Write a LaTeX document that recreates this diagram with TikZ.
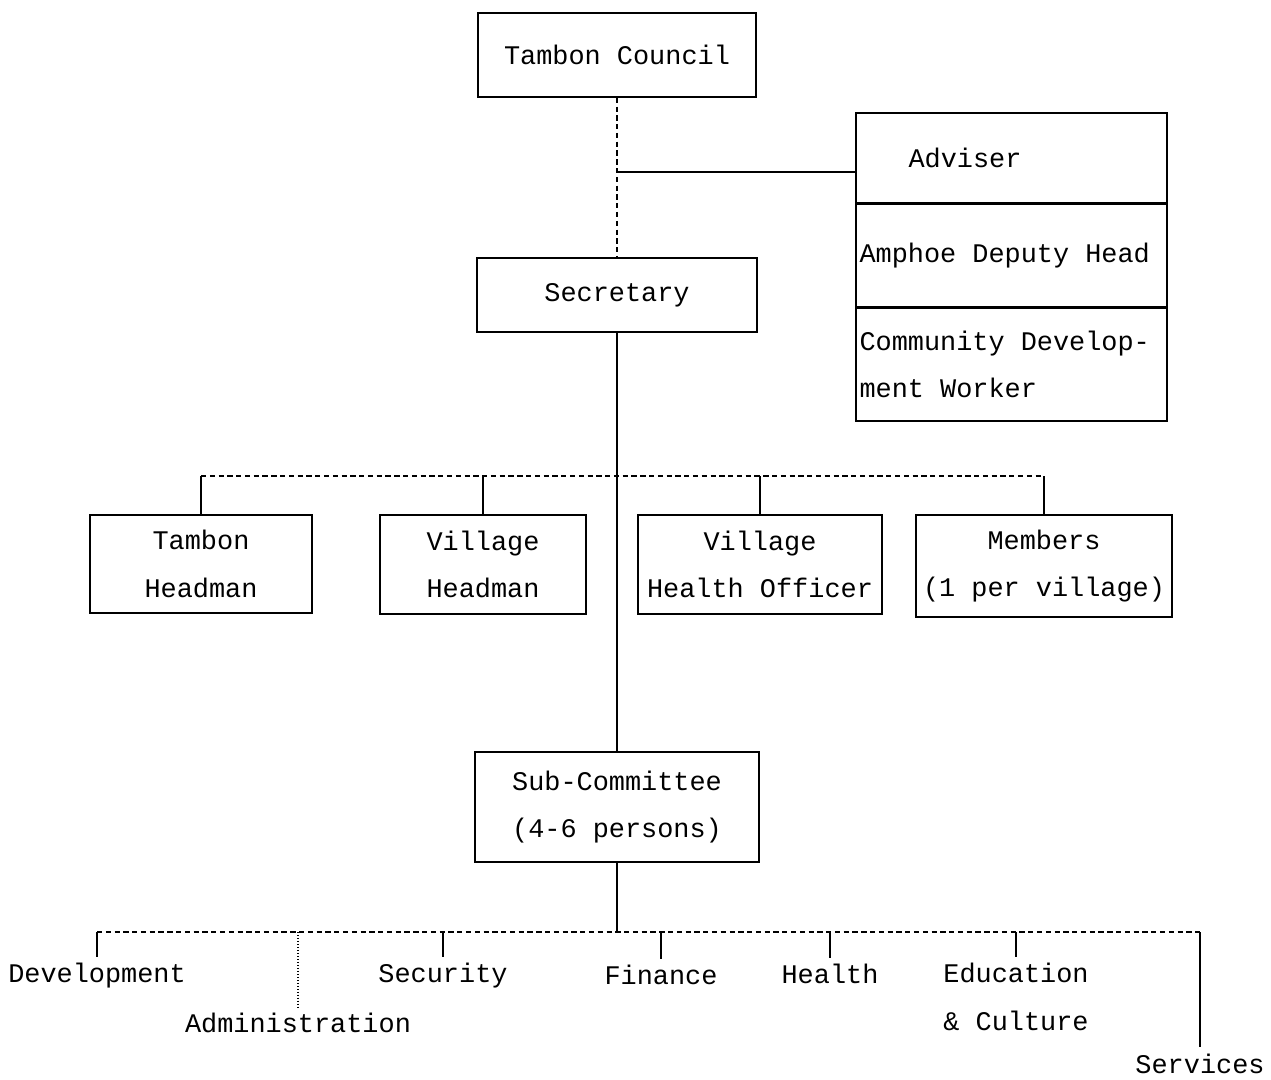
\documentclass[tikz,border=0pt]{standalone}
\usepackage{fontspec}
\setmonofont{Liberation Mono}
\usepackage{tikz}
\usetikzlibrary{positioning}
\usetikzlibrary{calc}
\newcommand{\orgfont}{\ttfamily\fontsize{15.3}{27}\selectfont\setlength{\spaceskip}{9.18pt}}
\pgfkeys{tikz/orgtext/.style={font=\orgfont,align=center}}
\pgfkeys{tikz/orgbox/.style={orgtext,draw,line width=0.9pt,inner sep=0pt,anchor=center}}
\pgfkeys{tikz/advbox/.style={orgtext,draw,line width=0.9pt,minimum width=6.22cm,text width=6.08cm,align=flush left,inner sep=0.07cm}}
\pgfkeys{tikz/branch/.style={line width=0.7pt,densely dashed}}

\begin{document}
\begin{tikzpicture}[x=0.02cm,y=-0.02cm]
    \useasboundingbox (0,0) rectangle (1271,1079);

	\node [orgbox,minimum width=5.56cm,minimum height=1.68cm] (council) at (617,55) {Tambon Council};
	\node [orgbox,minimum width=5.6cm,minimum height=1.48cm] (secr) at (617,295) {Secretary};

	% adviser column
	\node [advbox,minimum height=1.8cm] (adviser) at (1011.5,158) {\hspace*{0.98cm}Adviser\\[-0.2cm]};
	\node [advbox,minimum height=2.04cm,below=0pt of adviser] (deputy) {Amphoe Deputy Head\\[-0.2cm]};
	\node [advbox,minimum height=2.26cm,below=0pt of deputy] (cdworker) {Community Develop-\\ment Worker\\[-0.3cm]};

	% council members
	\node [orgbox,minimum width=4.44cm,minimum height=1.96cm] (tamhead) at (201,564) {Tambon\\Headman};
	\node [orgbox,minimum width=4.12cm,minimum height=1.98cm] (vilhead) at (483,564.5) {Village\\Headman};
	\node [orgbox,minimum width=4.88cm,minimum height=1.98cm] (vho) at (760,564.5) {Village\\Health Officer};
	\node [orgbox,minimum width=5.12cm,minimum height=2.04cm] (members) at (1044,566) {Members\\(1 per village)};

	\node [orgbox,minimum width=5.68cm,minimum height=2.2cm] (subcom) at (617,807) {Sub-Committee\\(4-6 persons)};

	% sub-committee fields
	\node [orgtext] (dev) at (97,976) {Development};
	\node [orgtext] (admin) at (298,1023) {Administration};
	\node [orgtext] (secu) at (443,976) {Security};
	\node [orgtext] (fin) at (661,975) {Finance};
	\node [orgtext] (hlth) at (830,974) {Health};
	\node [orgtext] (educ) at (1016,997) {Education\\\& Culture};
	\node [orgtext,inner sep=1pt] (serv) at (1200,1064) {Services};

	\coordinate (advjoin) at (617,172);
	\coordinate (midbr) at (617,476);
	\coordinate (lowbr) at (617,932);

	\draw[branch] (council.south) -- (secr.north);
	\draw[line width=0.7pt] (advjoin) -- (advjoin -| adviser.west);
	\draw[line width=0.9pt] (secr.south) -- (subcom.north);

	\draw[branch] (tamhead.north |- midbr) -- (members.north |- midbr);
	\foreach \n in {tamhead,vilhead,vho,members}
		\draw[line width=0.9pt] (\n.north |- midbr) -- (\n.north);

	\draw[line width=0.9pt] (subcom.south) -- (lowbr);
	\draw[branch] (dev.north |- lowbr) -- (serv.north |- lowbr);
	\foreach \n in {dev,secu,fin,hlth,educ}
		\draw[line width=0.8pt] (\n.north |- lowbr) -- (\n.north);
	\draw[line width=0.7pt,densely dotted] (admin.north |- lowbr) -- (admin.north);
	\draw[line width=1.4pt] (serv.north |- lowbr) -- ([yshift=3pt]serv.north);
\end{tikzpicture}
\end{document}
